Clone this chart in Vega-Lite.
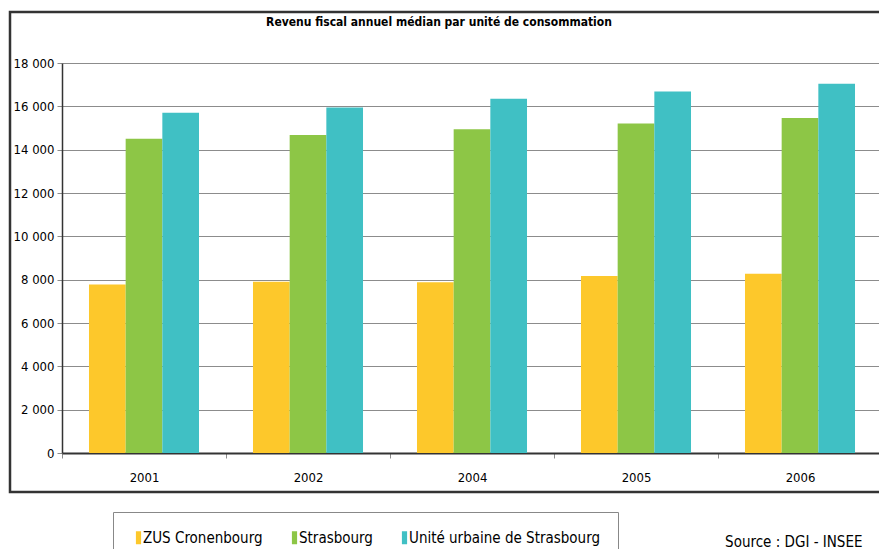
{
  "$schema": "https://vega.github.io/schema/vega-lite/v6.json",
  "width": 872,
  "height": 480,
  "autosize": {"type": "none"},
  "padding": {"left": 10, "top": 12, "right": 0, "bottom": 57},
  "config": {
    "locale": {"number": {"decimal": ",", "thousands": " ", "grouping": [3], "currency": ["", " €"]}},
    "view": {"stroke": "#333333", "strokeWidth": 2.5},
    "font": "Liberation Sans Narrow, DejaVu Sans Condensed, Liberation Sans, sans-serif"
  },
  "title": {
    "text": "Revenu fiscal annuel médian par unité de consommation",
    "fontSize": 12,
    "fontWeight": "bold",
    "anchor": "middle",
    "frame": "group",
    "offset": -14,
    "baseline": "alphabetic",
    "dx": -7,
    "dy": 12,
    "color": "#000000"
  },
  "data": {
    "values": [
      {"annee": "2001", "serie": "ZUS Cronenbourg", "valeur": 7780},
      {"annee": "2001", "serie": "Strasbourg", "valeur": 14500},
      {"annee": "2001", "serie": "Unité urbaine de Strasbourg", "valeur": 15700},
      {"annee": "2002", "serie": "ZUS Cronenbourg", "valeur": 7900},
      {"annee": "2002", "serie": "Strasbourg", "valeur": 14680},
      {"annee": "2002", "serie": "Unité urbaine de Strasbourg", "valeur": 15950},
      {"annee": "2004", "serie": "ZUS Cronenbourg", "valeur": 7880},
      {"annee": "2004", "serie": "Strasbourg", "valeur": 14940},
      {"annee": "2004", "serie": "Unité urbaine de Strasbourg", "valeur": 16350},
      {"annee": "2005", "serie": "ZUS Cronenbourg", "valeur": 8170},
      {"annee": "2005", "serie": "Strasbourg", "valeur": 15210},
      {"annee": "2005", "serie": "Unité urbaine de Strasbourg", "valeur": 16690},
      {"annee": "2006", "serie": "ZUS Cronenbourg", "valeur": 8270},
      {"annee": "2006", "serie": "Strasbourg", "valeur": 15460},
      {"annee": "2006", "serie": "Unité urbaine de Strasbourg", "valeur": 17040}
    ]
  },
  "mark": {"type": "bar"},
  "encoding": {
    "x": {
      "field": "annee",
      "type": "nominal",
      "scale": {"range": [52, 872], "paddingInner": 0, "paddingOuter": 0},
      "axis": {
        "offset": -39,
        "tickBand": "extent",
        "labelAngle": 0,
        "domainColor": "#333333",
        "domainWidth": 2,
        "tickColor": "#8c8c8c",
        "tickSize": 5,
        "labelPadding": 13,
        "labelFontSize": 13,
        "labelColor": "#000000",
        "grid": false,
        "title": "Source : DGI - INSEE",
        "titleX": 852,
        "titleY": 93,
        "titleAlign": "right",
        "titleAnchor": "end",
        "titleBaseline": "alphabetic",
        "titleFontWeight": "normal",
        "titleFontSize": 15,
        "titleColor": "#000000"
      }
    },
    "xOffset": {
      "field": "serie",
      "type": "nominal",
      "sort": ["ZUS Cronenbourg", "Strasbourg", "Unité urbaine de Strasbourg"],
      "scale": {"paddingInner": 0, "paddingOuter": 0.736}
    },
    "y": {
      "field": "valeur",
      "type": "quantitative",
      "scale": {"domain": [0, 18000], "range": [441, 51], "nice": false, "zero": true},
      "axis": {
        "values": [0, 2000, 4000, 6000, 8000, 10000, 12000, 14000, 16000, 18000],
        "format": ",d",
        "offset": -52,
        "grid": true,
        "gridColor": "#8c8c8c",
        "gridWidth": 1,
        "domainColor": "#333333",
        "domainWidth": 1.5,
        "tickColor": "#8c8c8c",
        "tickSize": 5,
        "labelFontSize": 13,
        "labelColor": "#000000",
        "labelPadding": 3,
        "title": null
      }
    },
    "color": {
      "field": "serie",
      "type": "nominal",
      "scale": {
        "domain": ["ZUS Cronenbourg", "Strasbourg", "Unité urbaine de Strasbourg"],
        "range": ["#FDC82B", "#8DC646", "#40C0C4"]
      },
      "legend": {
        "orient": "none",
        "legendX": 103,
        "legendY": 500,
        "direction": "horizontal",
        "title": null,
        "strokeColor": "#888888",
        "padding": 18,
        "symbolType": "M-0.4,-1h0.8v2h-0.8z",
        "symbolSize": 169,
        "symbolStrokeWidth": 0,
        "labelFontSize": 15,
        "labelLimit": 400,
        "labelColor": "#000000",
        "labelOffset": -3,
        "columnPadding": 24
      }
    }
  }
}
